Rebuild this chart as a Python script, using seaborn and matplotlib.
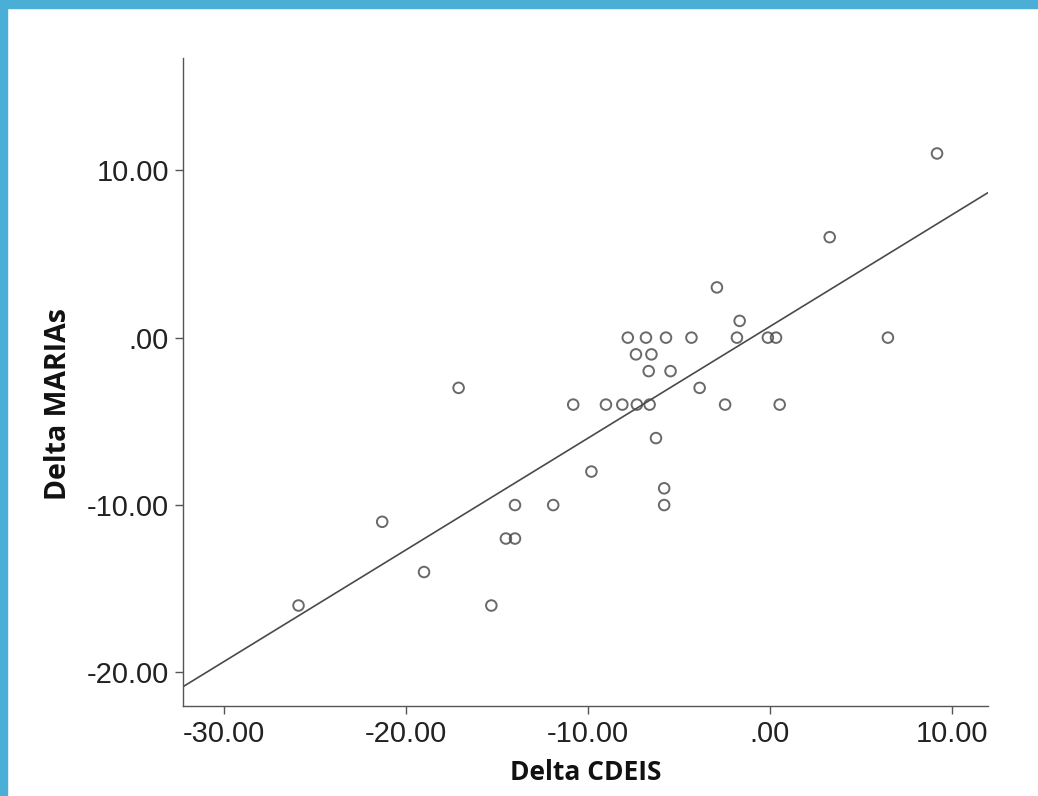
import numpy as np
import pandas as pd
import matplotlib
matplotlib.use("Agg")
import matplotlib.pyplot as plt
import seaborn as sns
from matplotlib.patches import Rectangle

# Change in CDEIS vs change in MARIAs
delta_cdeis = [-25.9, -21.3, -19.0, -17.1, -15.3, -14.5, -14.0, -14.0, -11.9,
               -10.8, -9.8, -9.0, -8.1, -7.8, -7.35, -7.3, -6.8, -6.65, -6.6,
               -6.5, -6.25, -5.8, -5.8, -5.7, -5.45, -4.3, -3.85, -2.9, -2.45,
               -1.8, -1.65, -0.1, 0.35, 0.55, 3.3, 6.5, 9.2]
delta_marias = [-16, -11, -14, -3, -16, -12, -12, -10, -10,
                -4, -8, -4, -4, 0, -1, -4, 0, -2, -4,
                -1, -6, -9, -10, 0, -2, 0, -3, 3, -4,
                0, 1, 0, 0, -4, 6, 0, 11]

x_ticks = [-30, -20, -10, 0, 10]
y_ticks = [-20, -10, 0, 10]


def fmt(v):
    # SPSS style: ".00" for zero
    return ".00" if v == 0 else f"{v:.2f}"


df = pd.DataFrame({"Delta CDEIS": delta_cdeis, "Delta MARIAs": delta_marias})

sns.set_theme(style="ticks")
plt.rcParams["font.family"] = ["Liberation Sans", "DejaVu Sans"]

fig = plt.figure(figsize=(10.38, 7.96), dpi=100)
ax = fig.add_axes([0.1763, 0.1131, 0.7755, 0.814])

# blue frame strips on the slide
fig.patches.append(Rectangle((0, 0), 0.0068, 1, transform=fig.transFigure,
                             color="#4aaed7", zorder=0))
fig.patches.append(Rectangle((0, 0.99), 1, 0.01, transform=fig.transFigure,
                             color="#4aaed7", zorder=0))

ax.set_xlim(-32.25, 12)
ax.set_ylim(-22, 16.7)

sns.regplot(data=df, x="Delta CDEIS", y="Delta MARIAs", ax=ax, ci=None,
            truncate=False,
            scatter_kws=dict(s=58, facecolors="none", edgecolors="#444444",
                             linewidths=1.4),
            line_kws=dict(color="#4a4a4a", linewidth=1.2))

ax.set_xlim(-32.25, 12)
ax.set_ylim(-22, 16.7)
ax.set_xticks(x_ticks)
ax.set_xticklabels([fmt(v) for v in x_ticks])
ax.set_yticks(y_ticks)
ax.set_yticklabels([fmt(v) for v in y_ticks])
ax.tick_params(labelsize=21, colors="#555555", labelcolor="#222222",
               length=6, width=1.0, pad=4)

for side in ["top", "right"]:
    ax.spines[side].set_visible(False)
for side in ["left", "bottom"]:
    ax.spines[side].set_color("#555555")
    ax.spines[side].set_linewidth(1.0)

ax.set_xlabel("Delta CDEIS", fontsize=19, fontweight="bold",
              family=["Open Sans", "DejaVu Sans"], color="#111111", labelpad=8)
ax.set_ylabel("Delta MARIAs", fontsize=20.5, fontweight="bold",
              family=["Open Sans", "DejaVu Sans"], color="#111111")
ax.yaxis.set_label_coords(-0.137, 0.466)

fig.savefig("out.png", dpi=100)
